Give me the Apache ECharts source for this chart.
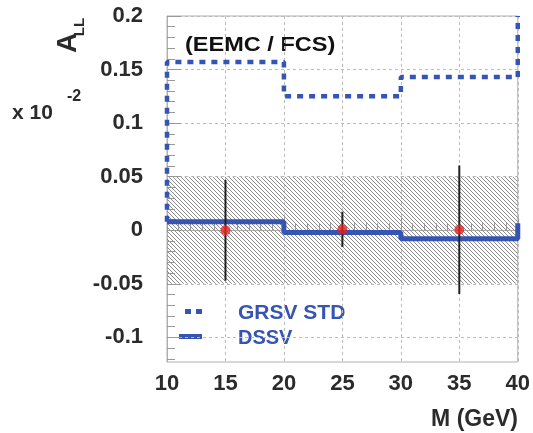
<!DOCTYPE html>
<html>
<head>
<meta charset="utf-8">
<script src="https://cdn.jsdelivr.net/npm/echarts@6/dist/echarts.min.js"></script>
<style>
  html, body { margin: 0; padding: 0; background: #fff; }
  #main { width: 533px; height: 433px; }
</style>
</head>
<body>
<div id="main"></div>
<script>
// bins of the theory curves
const binEdges = [10, 20, 30, 40];
const grsvStd = [0.157, 0.125, 0.143];
const grsvEnds = [0.008, 0.2];
const dssv = [0.008, -0.002, -0.008];
const dssvEnds = [0.008, 0.0065];

// projected data points
const pointX = [15, 25, 35];
const pointY = [0.0, 0.0008, 0.0005];
const pointErr = [0.047, 0.0165, 0.060];

// systematic band
const bandLow = -0.05;
const bandHigh = 0.05;

// axes
const xMin = 10, xMax = 40, xStep = 5;
const yMin = -0.123, yMax = 0.2;
const yMajorTicks = [-0.1, -0.05, 0, 0.05, 0.1, 0.15, 0.2];
const yMinorTicks = [];
for (let i = -12; i <= 20; i++) {
    if (i % 5 !== 0) yMinorTicks.push(i / 100);
}

const blue = '#3554b3';
const font = 'Liberation Sans';

function stepPoints(edges, vals, ends) {
    const pts = [[edges[0], ends[0]]];
    vals.forEach((v, i) => {
        pts.push([edges[i], v]);
        pts.push([edges[i + 1], v]);
    });
    pts.push([edges[edges.length - 1], ends[1]]);
    return pts;
}

// hatch pattern for the band
const hatch = document.createElement('canvas');
hatch.width = 4;
hatch.height = 4;
const hc = hatch.getContext('2d');
hc.strokeStyle = '#8c8c8c';
hc.lineWidth = 1;
hc.beginPath();
hc.moveTo(-1, -1); hc.lineTo(5, 5);
hc.moveTo(3, -1); hc.lineTo(5, 1);
hc.moveTo(-1, 3); hc.lineTo(1, 5);
hc.stroke();

const labelStyle = { fontFamily: font, fontWeight: 'bold', fill: '#2b2b2b', verticalAlign: 'middle' };

let myChart = echarts.init(document.getElementById('main'));
myChart.setOption({
    backgroundColor: '#fff',
    animation: false,
    grid: {
        left: 167, right: 15, top: 16, bottom: 71,
        show: true, borderColor: '#b0b0b0', borderWidth: 1
    },
    xAxis: {
        type: 'value',
        min: xMin, max: xMax, interval: xStep,
        axisLine: { lineStyle: { color: '#b0b0b0' } },
        axisTick: { inside: true, length: 13, lineStyle: { color: '#999' } },
        minorTick: { show: true, splitNumber: 5, length: 7, lineStyle: { color: '#999' } },
        splitLine: { show: true, lineStyle: { color: '#bbb', type: [3, 3] } },
        axisLabel: {
            margin: 11, color: '#2b2b2b', fontFamily: font, fontWeight: 'bold', fontSize: 22
        }
    },
    yAxis: [{
        type: 'value',
        position: 'left',
        min: yMin, max: yMax,
        axisLine: { show: true, lineStyle: { color: '#b0b0b0' } },
        axisTick: { show: true, inside: true, length: 14, customValues: yMajorTicks, lineStyle: { color: '#999' } },
        splitLine: { show: true, lineStyle: { color: '#bbb', type: [3, 3] } },
        axisLabel: {
            customValues: yMajorTicks,
            margin: 24, color: '#2b2b2b', fontFamily: font, fontWeight: 'bold', fontSize: 22
        }
    }, {
        type: 'value',
        position: 'left',
        min: yMin, max: yMax,
        axisLine: { show: false },
        axisTick: { show: true, inside: true, length: 8, customValues: yMinorTicks, lineStyle: { color: '#999' } },
        splitLine: { show: false },
        axisLabel: { show: false }
    }],
    graphic: [
        { type: 'text', x: 68, y: 43, rotation: Math.PI / 2,
          style: Object.assign({ text: 'A', fontSize: 28, align: 'center' }, labelStyle) },
        { type: 'text', x: 80, y: 27, rotation: Math.PI / 2,
          style: Object.assign({ text: 'LL', fontSize: 15, align: 'center' }, labelStyle) },
        { type: 'text', x: 12, y: 113,
          style: Object.assign({ text: 'x 10', fontSize: 21 }, labelStyle) },
        { type: 'text', x: 67, y: 97,
          style: Object.assign({ text: '-2', fontSize: 16 }, labelStyle) },
        { type: 'text', x: 185, y: 45, scaleX: 1.12,
          style: Object.assign({ text: '(EEMC / FCS)', fontSize: 21 }, labelStyle, { fill: '#111' }) },
        { type: 'text', x: 518, y: 420,
          style: Object.assign({ text: 'M (GeV)', fontSize: 23, align: 'right' }, labelStyle) },
        // legend
        { type: 'line', shape: { x1: 185, y1: 311.5, x2: 202, y2: 311.5 },
          style: { stroke: blue, lineWidth: 5, lineDash: [6, 5] } },
        { type: 'line', shape: { x1: 179, y1: 336.5, x2: 202, y2: 336.5 },
          style: { stroke: blue, lineWidth: 5 } },
        { type: 'text', x: 238, y: 313, scaleX: 1.05,
          style: Object.assign({ text: 'GRSV STD', fontSize: 20 }, labelStyle, { fill: blue }) },
        { type: 'text', x: 238, y: 338,
          style: Object.assign({ text: 'DSSV', fontSize: 20 }, labelStyle, { fill: blue }) }
    ],
    series: [{
        name: 'band',
        type: 'custom',
        silent: true,
        data: [[binEdges[0], binEdges[binEdges.length - 1], bandLow, bandHigh]],
        renderItem: function (params, api) {
            const p0 = api.coord([api.value(0), api.value(3)]);
            const p1 = api.coord([api.value(1), api.value(2)]);
            return {
                type: 'rect',
                shape: { x: p0[0], y: p0[1], width: p1[0] - p0[0], height: p1[1] - p0[1] },
                style: { fill: { image: hatch, repeat: 'repeat' } }
            };
        },
        z: 1
    }, {
        name: 'GRSV STD',
        type: 'line',
        data: stepPoints(binEdges, grsvStd, grsvEnds),
        symbol: 'none',
        clip: false,
        color: blue,
        lineStyle: { color: blue, width: 4.5, type: [6, 6], cap: 'butt' },
        z: 3
    }, {
        name: 'DSSV',
        type: 'line',
        data: stepPoints(binEdges, dssv, dssvEnds),
        symbol: 'none',
        color: blue,
        lineStyle: { color: blue, width: 5 },
        z: 3
    }, {
        name: 'errors',
        type: 'custom',
        data: pointX.map((x, i) => [x, pointY[i] - pointErr[i], pointY[i] + pointErr[i]]),
        renderItem: function (params, api) {
            const lo = api.coord([api.value(0), api.value(1)]);
            const hi = api.coord([api.value(0), api.value(2)]);
            return {
                type: 'line',
                shape: { x1: lo[0], y1: lo[1], x2: hi[0], y2: hi[1] },
                style: { stroke: '#222', lineWidth: 2 }
            };
        },
        z: 4
    }, {
        name: 'data',
        type: 'scatter',
        data: pointX.map((x, i) => [x, pointY[i]]),
        symbolSize: 10,
        itemStyle: { color: '#e8201e' },
        z: 5
    }]
});
</script>
</body>
</html>
